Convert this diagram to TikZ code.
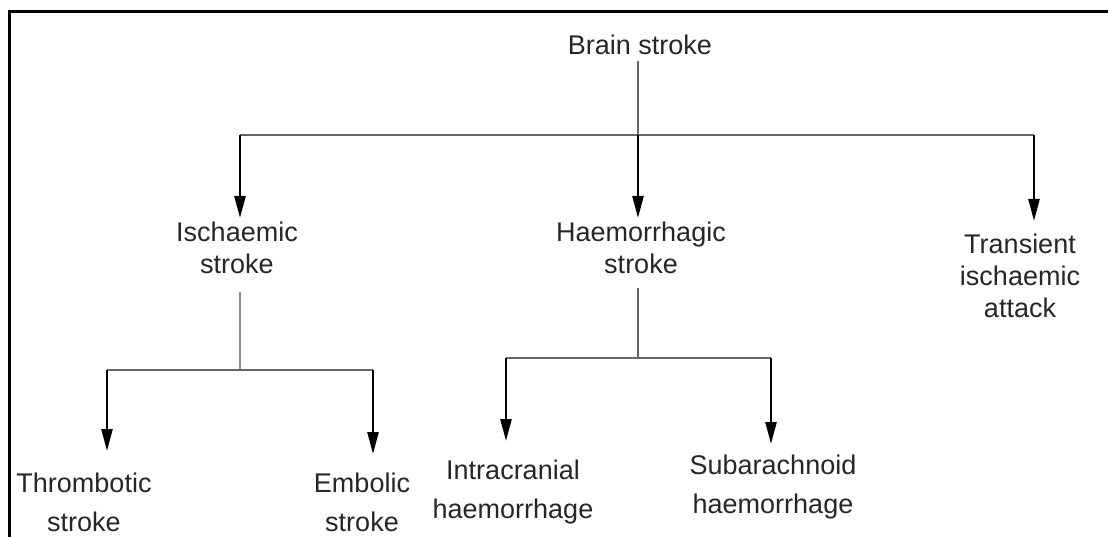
\documentclass[tikz,border=0pt]{standalone}
\usepackage{fontspec}
\setmainfont{Liberation Sans}
\usetikzlibrary{arrows.meta}
\begin{document}
\begin{tikzpicture}[x=1pt,y=-1pt,
  lbl/.style={inner sep=0pt,align=center,font=\fontsize{27}{32}\selectfont,text=black!85},
  lbl2/.style={lbl,font=\fontsize{27}{39}\selectfont},
  thin/.style={draw=black!60,line width=1.6pt},
  arr/.style={draw=black,line width=2.4pt,-{Triangle[length=22pt,width=11pt]}},
  frame/.style={draw=black,line width=3pt}]
\useasboundingbox (0,0) rectangle (1108,537);
\draw[frame] (9,540) -- (9,12) -- (1112,12);
% nodes
\node[lbl] (brain) at (640,45) {Brain stroke};
\node[lbl] (isch) at (237,248) {Ischaemic\\stroke};
\node[lbl] (haem) at (641,248) {Haemorrhagic\\stroke};
\node[lbl] (tia) at (1020,276) {Transient\\ischaemic\\attack};
\node[lbl2] (thro) at (84,502) {Thrombotic\\stroke};
\node[lbl2] (embo) at (362,502) {Embolic\\stroke};
\node[lbl2] (intra) at (513,492) {Intracranial\\haemorrhage};
\node[lbl2] (suba) at (773,487) {Subarachnoid\\haemorrhage};
% junctions
\coordinate (jb) at (638,135);
\coordinate (jl) at (240,135);
\coordinate (jr) at (1034,135);
\coordinate (ji) at (240,370);
\coordinate (jil) at (107,370);
\coordinate (jir) at (373,370);
\coordinate (jh) at (638,358);
\coordinate (jhl) at (506,358);
\coordinate (jhr) at (771,358);
% arrow tips
\coordinate (tisch) at (240,218);
\coordinate (thaem) at (638,218);
\coordinate (ttia) at (1034,221);
\coordinate (tthro) at (107,451);
\coordinate (tembo) at (373,454);
\coordinate (tintra) at (506,441);
\coordinate (tsuba) at (771,444);
% connectors
\draw[thin] (brain.south -| jb) ++(0,6) -- (jb);
\draw[thin] (jl) -- (jr);
\draw[arr] (jl) -- (tisch);
\draw[arr] (jb) -- (thaem);
\draw[arr] (jr) -- (ttia);
\draw[thin,draw=black!45] (isch.south -| ji) ++(0,18) -- (ji);
\draw[thin] (jil) -- (jir);
\draw[arr] (jil) -- (tthro);
\draw[arr] (jir) -- (tembo);
\draw[thin] (haem.south -| jh) ++(0,14) -- (jh);
\draw[thin] (jhl) -- (jhr);
\draw[arr] (jhl) -- (tintra);
\draw[arr] (jhr) -- (tsuba);
\end{tikzpicture}
\end{document}
